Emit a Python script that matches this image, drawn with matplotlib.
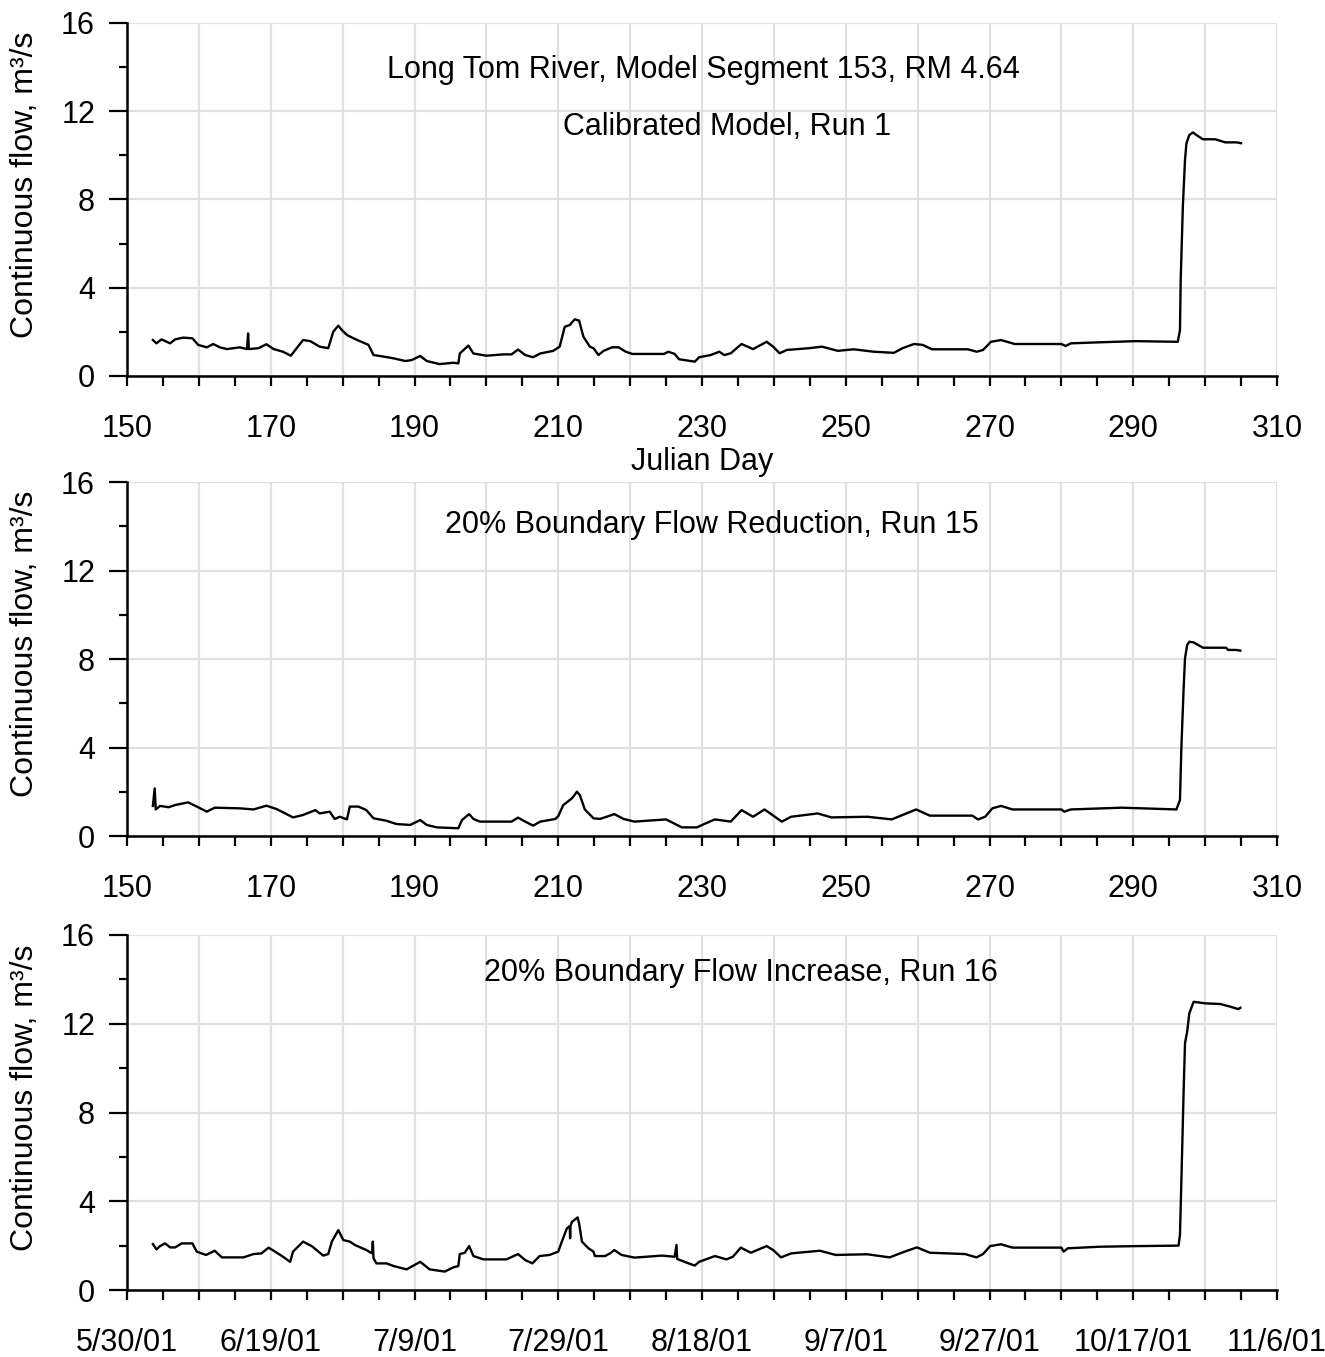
import matplotlib
matplotlib.use("Agg")
import matplotlib.pyplot as plt
from matplotlib.ticker import MultipleLocator, FuncFormatter

plt.rcParams['font.family'] = ['Liberation Sans', 'DejaVu Sans']

# ---------------- data (Julian day, flow m3/s) ----------------
run1_day = [153.6, 154.1, 154.8, 156.0, 156.7, 157.8, 159.1, 159.9, 161.1, 162.0,
            162.9, 163.9, 165.7, 166.7, 166.85, 166.95, 168.3, 169.4, 170.4, 171.7,
            172.8, 173.6, 174.5, 175.5, 176.8, 178.0, 178.7, 179.4, 179.9, 180.6,
            181.5, 183.6, 184.3, 185.7, 187.1, 188.7, 189.6, 190.8, 191.7, 193.5,
            195.4, 196.1, 196.3, 197.5, 198.2, 200.0, 202.4, 203.5, 204.4, 205.4,
            206.5, 207.5, 209.3, 210.2, 210.9, 211.6, 212.3, 212.9, 213.5, 214.4,
            214.9, 215.6, 216.3, 217.5, 218.4, 219.4, 220.3, 224.7, 225.3, 226.2,
            226.8, 229.0, 229.6, 231.2, 232.4, 233.1, 234.0, 235.5, 237.1, 239.0,
            239.9, 240.8, 241.8, 244.9, 246.7, 248.9, 251.1, 253.9, 256.7, 257.9,
            259.5, 260.7, 262.0, 267.0, 268.2, 269.1, 270.2, 271.6, 273.5, 280.0,
            280.6, 281.3, 284.7, 290.3, 296.2, 296.5, 296.6, 296.9, 297.2, 297.4,
            297.8, 298.3, 298.8, 299.7, 301.4, 302.8, 304.4, 305.0]
run1_flow = [1.63, 1.48, 1.66, 1.48, 1.66, 1.74, 1.71, 1.41, 1.30, 1.45,
             1.30, 1.22, 1.30, 1.22, 1.93, 1.22, 1.26, 1.44, 1.22, 1.10,
             0.92, 1.26, 1.63, 1.58, 1.33, 1.26, 2.01, 2.28, 2.08, 1.86,
             1.71, 1.41, 0.95, 0.88, 0.80, 0.68, 0.72, 0.91, 0.68, 0.54,
             0.60, 0.57, 1.02, 1.38, 1.02, 0.92, 0.98, 0.98, 1.20, 0.95,
             0.85, 1.02, 1.14, 1.33, 2.23, 2.31, 2.57, 2.51, 1.78, 1.33,
             1.26, 0.95, 1.14, 1.30, 1.30, 1.10, 1.00, 1.00, 1.10, 1.00,
             0.76, 0.65, 0.85, 0.95, 1.10, 0.95, 1.03, 1.45, 1.22, 1.55,
             1.33, 1.03, 1.18, 1.26, 1.33, 1.14, 1.21, 1.10, 1.05, 1.26,
             1.45, 1.41, 1.21, 1.21, 1.10, 1.18, 1.55, 1.63, 1.45, 1.45,
             1.36, 1.48, 1.52, 1.58, 1.55, 2.08, 4.35, 7.68, 9.79, 10.55,
             10.92, 11.04, 10.92, 10.73, 10.73, 10.59, 10.59, 10.55]

run15_day = [153.6, 153.85, 154.0, 154.6, 155.8, 156.7, 158.5, 159.9, 161.1, 162.2,
             165.7, 167.6, 169.4, 170.8, 173.1, 174.5, 176.2, 176.8, 178.2, 178.9,
             179.6, 180.6, 181.0, 182.2, 183.3, 184.3, 186.1, 187.5, 189.4, 190.8,
             191.7, 193.1, 196.1, 196.6, 197.6, 198.2, 199.1, 203.5, 204.4, 205.4,
             206.5, 207.5, 209.6, 210.0, 210.7, 211.9, 212.6, 213.0, 213.7, 214.9,
             215.8, 217.0, 217.8, 219.1, 220.6, 225.0, 227.2, 229.3, 230.3, 231.8,
             234.0, 235.5, 237.1, 238.7, 241.1, 242.4, 246.1, 248.0, 253.0, 256.4,
             257.9, 259.8, 261.7, 267.6, 268.4, 269.4, 270.4, 271.6, 273.2, 280.0,
             280.4, 281.3, 288.4, 296.0, 296.5, 296.7, 297.0, 297.2, 297.5, 297.8,
             298.4, 299.7, 302.9, 303.2, 304.3, 304.9]
run15_flow = [1.36, 2.15, 1.20, 1.36, 1.30, 1.40, 1.52, 1.30, 1.10, 1.28,
              1.25, 1.20, 1.37, 1.22, 0.84, 0.95, 1.17, 1.02, 1.10, 0.77,
              0.87, 0.75, 1.33, 1.33, 1.17, 0.80, 0.69, 0.54, 0.50, 0.72,
              0.50, 0.39, 0.35, 0.72, 0.99, 0.77, 0.65, 0.65, 0.83, 0.65,
              0.47, 0.65, 0.77, 0.90, 1.40, 1.70, 2.00, 1.85, 1.20, 0.80,
              0.77, 0.90, 0.99, 0.77, 0.65, 0.75, 0.39, 0.39, 0.54, 0.75,
              0.65, 1.17, 0.87, 1.20, 0.65, 0.87, 1.02, 0.84, 0.87, 0.75,
              0.95, 1.20, 0.92, 0.92, 0.75, 0.87, 1.25, 1.36, 1.20, 1.20,
              1.10, 1.20, 1.28, 1.20, 1.62, 4.04, 6.60, 8.03, 8.63, 8.78,
              8.75, 8.51, 8.51, 8.41, 8.41, 8.38]

run16_day = [153.6, 154.1, 154.6, 155.3, 156.0, 156.7, 157.6, 159.1, 159.7, 161.0,
             162.2, 163.2, 166.2, 167.6, 168.7, 169.7, 170.6, 171.7, 172.7, 173.1,
             174.5, 175.7, 177.3, 178.0, 178.5, 179.4, 180.1, 181.0, 181.7, 183.3,
             184.1, 184.2, 184.3, 184.7, 186.1, 187.1, 188.9, 190.8, 192.1, 194.2,
             195.4, 196.1, 196.3, 197.0, 197.6, 198.2, 199.6, 202.8, 204.4, 205.4,
             206.4, 207.4, 208.8, 210.0, 210.5, 211.2, 211.6, 211.65, 211.7, 211.9,
             212.7, 212.9, 213.3, 214.2, 214.9, 215.1, 216.5, 217.2, 217.8, 218.8,
             220.6, 224.4, 226.2, 226.45, 226.55, 227.8, 229.0, 229.6, 231.8, 233.4,
             234.3, 235.4, 236.8, 239.0, 239.9, 241.0, 242.4, 246.4, 248.6, 253.0,
             256.1, 258.2, 259.9, 261.7, 266.6, 268.2, 269.1, 270.1, 271.6, 273.2,
             280.0, 280.3, 280.9, 285.3, 290.9, 296.3, 296.5, 296.7, 297.0, 297.2,
             297.5, 297.8, 298.4, 300.0, 302.1, 303.5, 304.6, 304.9]
run16_flow = [2.07, 1.83, 1.98, 2.10, 1.92, 1.92, 2.10, 2.10, 1.73, 1.58,
              1.77, 1.47, 1.47, 1.62, 1.65, 1.91, 1.73, 1.50, 1.27, 1.73,
              2.18, 1.98, 1.55, 1.62, 2.18, 2.70, 2.25, 2.18, 2.03, 1.80,
              1.65, 2.18, 1.43, 1.20, 1.20, 1.08, 0.93, 1.27, 0.93, 0.83,
              1.02, 1.08, 1.62, 1.68, 1.98, 1.53, 1.38, 1.38, 1.62, 1.35,
              1.20, 1.53, 1.58, 1.73, 2.18, 2.78, 2.88, 2.33, 2.88, 3.07,
              3.27, 3.00, 2.18, 1.88, 1.73, 1.53, 1.53, 1.65, 1.80, 1.58,
              1.46, 1.55, 1.50, 2.03, 1.40, 1.24, 1.10, 1.27, 1.53, 1.38,
              1.50, 1.91, 1.68, 1.98, 1.80, 1.47, 1.65, 1.77, 1.58, 1.61,
              1.47, 1.73, 1.92, 1.68, 1.62, 1.47, 1.62, 1.98, 2.06, 1.91,
              1.91, 1.73, 1.88, 1.95, 1.98, 2.00, 2.48, 4.96, 8.86, 11.12,
              11.64, 12.47, 12.99, 12.92, 12.89, 12.77, 12.66, 12.72]

julian_ticks = [150, 170, 190, 210, 230, 250, 270, 290, 310]
date_labels = ['5/30/01', '6/19/01', '7/9/01', '7/29/01', '8/18/01',
               '9/7/01', '9/27/01', '10/17/01', '11/6/01']
panel_titles = [["Long Tom River, Model Segment 153, RM 4.64", "Calibrated Model, Run 1"],
                ["20% Boundary Flow Reduction, Run 15"],
                ["20% Boundary Flow Increase, Run 16"]]

# ---------------- figure ----------------
W, H = 1325, 1357
fig = plt.figure(figsize=(W / 100, H / 100), dpi=100)

def px_axes(left, top, right, bottom):
    return fig.add_axes([left / W, 1 - bottom / H, (right - left) / W, (bottom - top) / H])

axes = [px_axes(127, 23, 1277, 376), px_axes(127, 482, 1277, 836), px_axes(127, 935, 1277, 1290)]
series = [(run1_day, run1_flow), (run15_day, run15_flow), (run16_day, run16_flow)]

FS = 22
grid_col = '#e0e0e0'
date_map = dict(zip(julian_ticks, date_labels))

def julian_fmt(v, p):
    k = int(round(v))
    return str(k) if k in julian_ticks else ""

def date_fmt(v, p):
    return date_map.get(int(round(v)), "")

for i, ax in enumerate(axes):
    d, f = series[i]
    ax.plot(d, f, color='black', lw=1.7, zorder=3)
    ax.set_xlim(150, 310)
    ax.set_ylim(0, 16)
    ax.xaxis.set_major_locator(MultipleLocator(10))
    ax.xaxis.set_minor_locator(MultipleLocator(5))
    ax.yaxis.set_major_locator(MultipleLocator(4))
    ax.yaxis.set_minor_locator(MultipleLocator(2))
    ax.xaxis.set_major_formatter(FuncFormatter(date_fmt if i == 2 else julian_fmt))
    ax.grid(True, which='major', color=grid_col, lw=1.6, zorder=0)
    ax.set_axisbelow(True)
    for s in ['top', 'right']:
        ax.spines[s].set_visible(False)
    for s in ['left', 'bottom']:
        ax.spines[s].set_linewidth(1.8)
        ax.spines[s].set_zorder(4)
    ax.tick_params(axis='x', which='both', direction='out', length=7.5, width=1.6,
                   labelsize=FS, pad=20)
    ax.tick_params(axis='y', which='major', direction='out', length=13, width=1.6,
                   labelsize=FS, pad=10)
    ax.tick_params(axis='y', which='minor', direction='out', length=6, width=1.6)
    ax.set_ylabel("Continuous flow, m³/s", fontsize=23)
    ax.yaxis.set_label_coords(-0.0757, 0.542)

axes[0].set_xlabel("Julian Day", fontsize=FS, labelpad=2)

axes[0].text(0.501, 0.867, panel_titles[0][0], transform=axes[0].transAxes,
             ha='center', va='center', fontsize=FS)
axes[0].text(0.522, 0.705, panel_titles[0][1], transform=axes[0].transAxes,
             ha='center', va='center', fontsize=FS)
axes[1].text(0.509, 0.879, panel_titles[1][0], transform=axes[1].transAxes,
             ha='center', va='center', fontsize=FS)
axes[2].text(0.534, 0.893, panel_titles[2][0], transform=axes[2].transAxes,
             ha='center', va='center', fontsize=FS)

fig.savefig("out.png", dpi=100)
